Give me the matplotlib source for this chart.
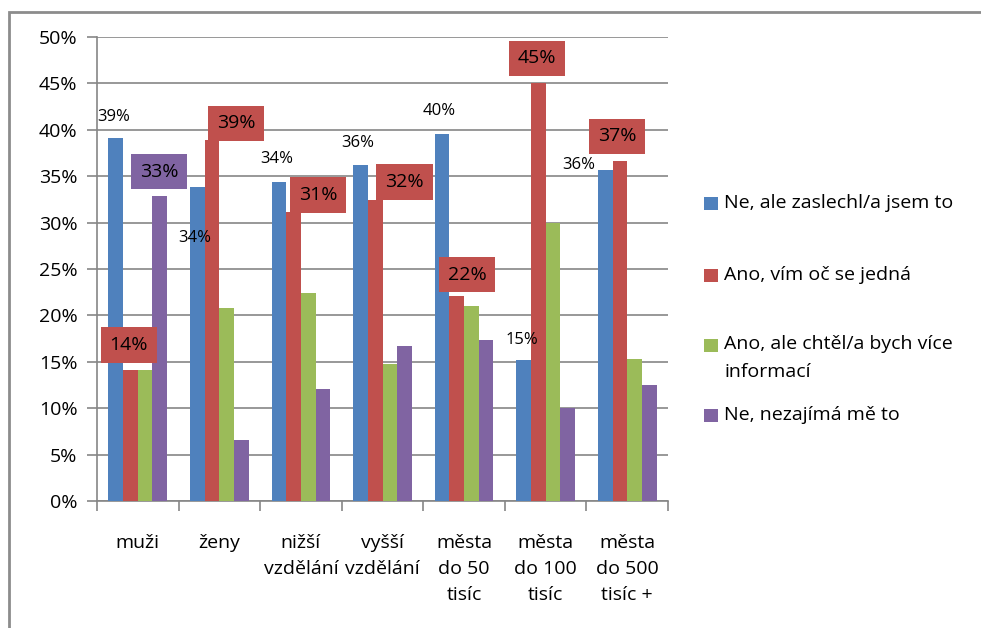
import numpy as np
import matplotlib
matplotlib.use('Agg')
import matplotlib.pyplot as plt
from matplotlib.patches import Rectangle

plt.rcParams['font.family'] = ['Open Sans', 'DejaVu Sans']

categories = ['muži', 'ženy', 'nižší\nvzdělání', 'vyšší\nvzdělání',
              'města\ndo 50\ntisíc', 'města\ndo 100\ntisíc', 'města\ndo 500\ntisíc +']
series = ['Ne, ale zaslechl/a jsem to', 'Ano, vím oč se jedná',
          'Ano, ale chtěl/a bych více\ninformací', 'Ne, nezajímá mě to']

ne_zaslechl = [39.1, 33.8, 34.4, 36.2, 39.6, 15.2, 35.7]
ano_vim = [14.1, 38.9, 31.1, 32.4, 22.1, 45.0, 36.6]
ano_chtel = [14.1, 20.8, 22.4, 14.8, 21.0, 30.0, 15.3]
ne_nezajima = [32.9, 6.6, 12.1, 16.7, 17.3, 10.0, 12.5]

# label offsets (data units) from top of each bar, as Excel placed them
blue_dx = [-0.02, -0.03, -0.03, -0.035, -0.03, -0.016, -0.32]
blue_dy = [2.3, -5.5, 2.4, 2.4, 2.4, 2.1, 0.5]
red_dx = [-0.02, 0.30, 0.30, 0.36, 0.13, -0.02, -0.03]
red_dy = [2.7, 1.8, 1.9, 2.0, 2.3, 2.7, 2.7]

colors = ['#4F81BD', '#C0504D', '#9BBB59', '#8064A2']
data = [ne_zaslechl, ano_vim, ano_chtel, ne_nezajima]

fig = plt.figure(figsize=(9.81, 6.28), dpi=100)
ax = fig.add_axes([97/981, 1 - 501/628, (668-97)/981, (501-37)/628])

x = np.arange(len(categories))
w = 0.18
for j, (vals, c) in enumerate(zip(data, colors)):
    ax.bar(x + (j - 1.5)*w, vals, width=w, color=c, edgecolor='none', zorder=3)

# blue labels - plain text
for i, v in enumerate(ne_zaslechl):
    ax.text(i - 1.5*w + blue_dx[i], v + blue_dy[i], '%d%%' % round(v),
            ha='center', va='center', fontsize=12, zorder=5)

# red labels - boxed
for i, v in enumerate(ano_vim):
    ax.text(i - 0.5*w + red_dx[i], v + red_dy[i], '%d%%' % round(v),
            ha='center', va='center', fontsize=14, zorder=5,
            bbox=dict(boxstyle='square,pad=0.45', fc=colors[1], ec='none'))

# purple label only for muži
ax.text(0 + 1.5*w - 0.01, ne_nezajima[0] + 2.6, '%d%%' % round(ne_nezajima[0]),
        ha='center', va='center', fontsize=14, zorder=5,
        bbox=dict(boxstyle='square,pad=0.45', fc=colors[3], ec='none'))

ax.set_xlim(-0.5, len(categories) - 0.5)
ax.set_ylim(0, 50)
ax.set_yticks(np.arange(0, 51, 5))
ax.set_yticklabels(['%d%%' % t for t in range(0, 51, 5)], fontsize=14)
ax.yaxis.grid(True, color='#868686', linewidth=1.2, zorder=0)
ax.set_axisbelow(True)

ax.set_xticks(x)
ax.set_xticklabels(categories, fontsize=14, linespacing=1.55, va='top')
ax.set_xticks(np.arange(-0.5, len(categories), 1), minor=True)
ax.tick_params(axis='x', which='major', length=0, pad=24)
ax.tick_params(axis='x', which='minor', length=7, color='#868686', width=1.2)
ax.tick_params(axis='y', length=7, color='#868686', width=1.2, pad=7)

for s in ['top', 'right']:
    ax.spines[s].set_visible(False)
for s in ['left', 'bottom']:
    ax.spines[s].set_color('#868686')
    ax.spines[s].set_linewidth(1.2)

# legend drawn by hand to match spacing
leg_y = [203, 275, 345, 415]
for c, lab, yy in zip(colors, series, leg_y):
    fig.patches.append(Rectangle((704/981, 1 - (yy + 7)/628), 14/981, 13/628,
                                 transform=fig.transFigure, fc=c, ec='none'))
    if '\n' in lab:
        fig.text(724/981, 1 - (yy - 10)/628, lab, fontsize=14, va='top',
                 ha='left', linespacing=1.7)
    else:
        fig.text(724/981, 1 - yy/628, lab, fontsize=14, va='center', ha='left')

# outer chart frame
fig.patches.append(Rectangle((9/981, -0.1), 1.2, 1 - 12/628 + 0.1,
                             transform=fig.transFigure, fill=False,
                             ec='#8c8c8c', lw=2))

fig.savefig('out.png', dpi=100)
